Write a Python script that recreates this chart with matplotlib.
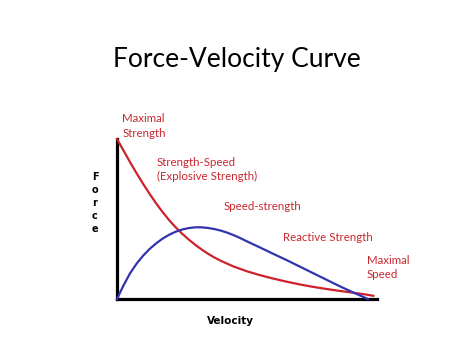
import matplotlib.pyplot as plt

# curve values (velocity 0..1, force 0..1)
red_x = [0, 0.025, 0.05, 0.075, 0.1, 0.125, 0.15, 0.175, 0.2, 0.225, 0.25, 0.275, 0.3,
         0.325, 0.35, 0.375, 0.4, 0.45, 0.5, 0.55, 0.6, 0.65, 0.7, 0.75, 0.8, 0.85, 0.9,
         0.95, 0.986]
red_y = [1.0, 0.928, 0.856, 0.787, 0.721, 0.658, 0.599, 0.544, 0.494, 0.449, 0.409, 0.373,
         0.34, 0.31, 0.283, 0.259, 0.238, 0.202, 0.173, 0.149, 0.128, 0.109, 0.092, 0.077,
         0.064, 0.052, 0.041, 0.03, 0.02]

blue_x = [0, 0.025, 0.05, 0.075, 0.1, 0.125, 0.15, 0.175, 0.2, 0.225, 0.25, 0.275, 0.3,
          0.325, 0.35, 0.375, 0.4, 0.425, 0.45, 0.475, 0.5, 0.55, 0.6, 0.65, 0.7, 0.75,
          0.8, 0.85, 0.9, 0.965]
blue_y = [0, 0.085, 0.16, 0.22, 0.27, 0.312, 0.347, 0.377, 0.401, 0.42, 0.434, 0.443, 0.448,
          0.448, 0.444, 0.437, 0.427, 0.414, 0.398, 0.38, 0.36, 0.322, 0.283, 0.245, 0.205,
          0.165, 0.125, 0.085, 0.047, 0.0]

labels = ["Maximal\nStrength", "Strength-Speed\n(Explosive Strength)", "Speed-strength",
          "Reactive Strength", "Maximal\nSpeed"]
label_x = [0.02, 0.154, 0.41, 0.64, 0.96]
label_y = [1.16, 0.89, 0.61, 0.42, 0.275]

RED = "#cc2229"
BLUE = "#3333b0"
TXT = "#c8282e"

fig = plt.figure(figsize=(4.74, 3.57), dpi=100)
ax = fig.add_axes([117 / 474, 58 / 357, 260 / 474, 160 / 357])

ax.plot(red_x, red_y, color=RED, lw=1.6, clip_on=False, zorder=3, solid_joinstyle="round")
ax.plot(blue_x, blue_y, color=BLUE, lw=1.6, clip_on=False, zorder=3, solid_joinstyle="round")

ax.set_xlim(0, 1)
ax.set_ylim(0, 1)
for s in ["top", "right"]:
    ax.spines[s].set_visible(False)
for s in ["left", "bottom"]:
    ax.spines[s].set_linewidth(2.3)
    ax.spines[s].set_color("black")
ax.set_xticks([])
ax.set_yticks([])
ax.patch.set_alpha(0)

for t, x, y in zip(labels, label_x, label_y):
    ax.text(x, y, t, color=TXT, fontsize=8.3, family="Lato", va="top", ha="left",
            linespacing=1.35, clip_on=False)

# title and axis labels
fig.text(0.5, 1 - 60 / 357, "Force-Velocity Curve", fontsize=19, family="Lato",
         ha="center", va="center")
fig.text(230 / 474, 1 - 321 / 357, "Velocity", fontsize=7.5, fontweight="bold",
         family="DejaVu Sans", ha="center", va="center")
fig.text(95 / 474, 1 - 203 / 357, "F\no\nr\nc\ne", fontsize=7, fontweight="bold",
         family="DejaVu Sans", ha="center", va="center", linespacing=1.35)

fig.savefig("out.png", dpi=100)
